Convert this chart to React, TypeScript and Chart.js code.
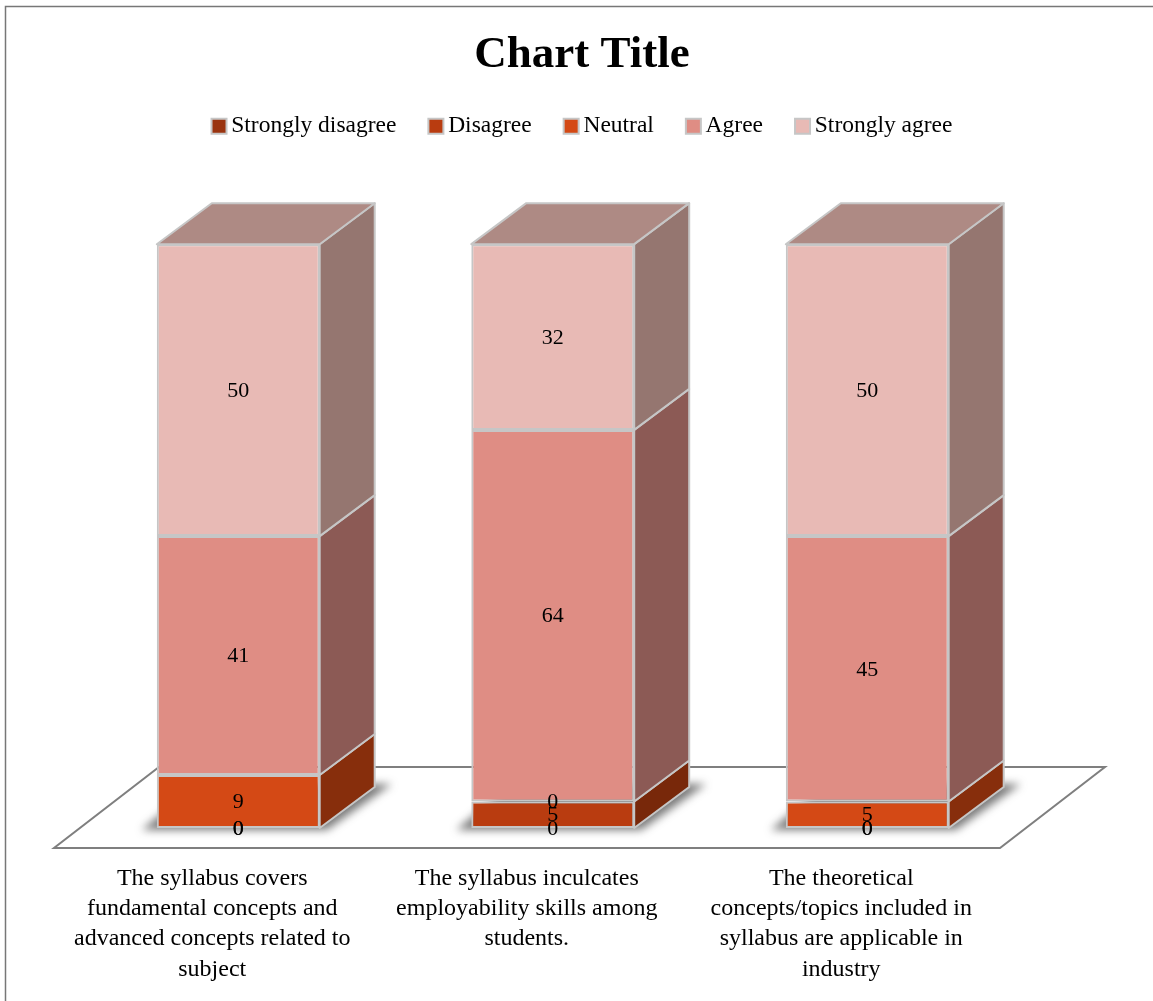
import React, { useEffect, useRef } from "react";
import { Chart, registerables } from "chart.js";

Chart.register(...registerables);

const categories = [
  ["The syllabus covers", "fundamental concepts and", "advanced concepts related to", "subject"],
  ["The syllabus inculcates", "employability skills among", "students."],
  ["The theoretical", "concepts/topics included in", "syllabus are applicable in", "industry"],
];
const stronglyDisagree = [0, 0, 0];
const disagree = [0, 4.55, 0];
const neutral = [9.09, 0, 4.55];
const agree = [40.91, 63.64, 45.45];
const stronglyAgree = [50, 31.82, 50];

const seriesNames = ["Strongly disagree", "Disagree", "Neutral", "Agree", "Strongly agree"];
const seriesValues = [stronglyDisagree, disagree, neutral, agree, stronglyAgree];
const frontColors = ["#9a3410", "#b93c10", "#d44915", "#df8d84", "#e8bab5"];
const sideColors = ["#6a2409", "#78280a", "#872e0c", "#8c5a55", "#957670"];
const topColors = ["#7a2a0c", "#8a300c", "#98360f", "#a0625c", "#ae8a84"];
const edgeColor = "#c6c6c6";
const FONT = '"Liberation Serif", serif';
const DEPTH_X = 55;
const DEPTH_Y = -41;

function poly(ctx: CanvasRenderingContext2D, pts: number[][]) {
  ctx.beginPath();
  pts.forEach(([x, y], i) => (i ? ctx.lineTo(x, y) : ctx.moveTo(x, y)));
  ctx.closePath();
}

const scene = {
  id: "scene",
  beforeInit(chart: any) {
    const fit = chart.legend.fit;
    chart.legend.fit = function () {
      fit.call(this);
      this.height = 162.2;
    };
  },
  beforeDraw(chart: any) {
    const { ctx, width, height } = chart;
    ctx.save();
    ctx.fillStyle = "#fff";
    ctx.fillRect(0, 0, width, height);
    ctx.strokeStyle = "#777";
    ctx.lineWidth = 1.5;
    ctx.beginPath();
    ctx.moveTo(5.5, height);
    ctx.lineTo(5.5, 6.5);
    ctx.lineTo(width, 6.5);
    ctx.stroke();
    ctx.restore();
  },
  beforeDatasetsDraw(chart: any) {
    const { ctx, chartArea } = chart;
    const { left, right, bottom } = chartArea;
    ctx.save();
    poly(ctx, [
      [left - 27, bottom + 20],
      [right - 24.5, bottom + 20],
      [right + 80.5, bottom - 61],
      [left + 78, bottom - 61],
    ]);
    ctx.fillStyle = "#fff";
    ctx.fill();
    ctx.strokeStyle = "#7f7f7f";
    ctx.lineWidth = 2;
    ctx.stroke();
    const first = chart.getDatasetMeta(0).data;
    first.forEach((bar: any) => {
      const l = bar.x - bar.width / 2;
      const r = bar.x + bar.width / 2;
      const b = chart.scales.y.getPixelForValue(0);
      ctx.save();
      ctx.filter = "blur(4px)";
      ctx.fillStyle = "rgba(50,50,50,0.65)";
      poly(ctx, [
        [l - 15, b + 2],
        [r + 7, b + 2],
        [r + 72, b - 44],
        [l + 40, b - 44],
      ]);
      ctx.fill();
      ctx.restore();
    });
    ctx.restore();
  },
  afterDatasetsDraw(chart: any) {
    const { ctx } = chart;
    ctx.save();
    ctx.lineWidth = 2;
    ctx.strokeStyle = edgeColor;
    ctx.lineJoin = "round";
    const nBars = categories.length;
    for (let j = 0; j < nBars; j++) {
      let topIndex = 0;
      seriesValues.forEach((s, i) => {
        if (s[j] > 0) topIndex = i;
      });
      seriesValues.forEach((s, i) => {
        if (s[j] <= 0) return;
        const bar: any = chart.getDatasetMeta(i).data[j];
        const r = bar.x + bar.width / 2;
        const l = bar.x - bar.width / 2;
        poly(ctx, [
          [r, bar.base],
          [r + DEPTH_X, bar.base + DEPTH_Y],
          [r + DEPTH_X, bar.y + DEPTH_Y],
          [r, bar.y],
        ]);
        ctx.fillStyle = sideColors[i];
        ctx.fill();
        ctx.stroke();
        if (i === topIndex) {
          poly(ctx, [
            [l, bar.y],
            [r, bar.y],
            [r + DEPTH_X, bar.y + DEPTH_Y],
            [l + DEPTH_X, bar.y + DEPTH_Y],
          ]);
          ctx.fillStyle = topColors[i];
          ctx.fill();
          ctx.stroke();
        }
      });
    }
    ctx.fillStyle = "#000";
    ctx.font = `22px ${FONT}`;
    ctx.textAlign = "center";
    ctx.textBaseline = "middle";
    seriesValues.forEach((s, i) => {
      s.forEach((v, j) => {
        const bar: any = chart.getDatasetMeta(i).data[j];
        ctx.fillText(String(Math.round(v)), bar.x, (bar.y + bar.base) / 2 + 1);
      });
    });
    ctx.restore();
  },
  afterDraw(chart: any) {
    const { ctx, legend } = chart;
    ctx.save();
    ctx.strokeStyle = edgeColor;
    ctx.lineWidth = 2;
    legend.legendHitBoxes.forEach((hit: any, i: number) => {
      const y = hit.top + hit.height / 2 - 7;
      ctx.fillStyle = frontColors[i];
      ctx.fillRect(hit.left, y, 15, 15);
      ctx.strokeRect(hit.left, y, 15, 15);
    });
    ctx.restore();
  },
};

export default function App() {
  const ref = useRef<HTMLCanvasElement>(null);
  useEffect(() => {
    const chart = new Chart(ref.current as HTMLCanvasElement, {
      type: "bar",
      data: {
        labels: categories as any,
        datasets: seriesNames.map((label, i) => ({
          label,
          data: seriesValues[i],
          backgroundColor: (c: any) => (c.raw > 0 ? frontColors[i] : "transparent"),
          borderColor: (c: any) => (c.raw > 0 ? edgeColor : "transparent"),
          borderWidth: (c: any) => (c.raw > 0 ? 2 : 0),
          borderSkipped: false,
          inflateAmount: 0,
          barPercentage: 0.518,
          categoryPercentage: 1,
        })),
      },
      options: {
        responsive: false,
        animation: false,
        devicePixelRatio: 1,
        layout: { padding: { left: 11 } },
        plugins: {
          tooltip: { enabled: false },
          title: {
            display: true,
            text: "Chart Title",
            color: "#000",
            font: { family: FONT, size: 45, weight: "bold" },
            padding: { top: 28, bottom: 0 },
          },
          legend: {
            display: true,
            position: "top",
            onClick: () => {},
            labels: {
              boxWidth: 8,
              boxHeight: 14,
              padding: 32,
              color: "#000",
              font: { family: FONT, size: 23.5 },
              generateLabels: () =>
                seriesNames.map((text, i) => ({
                  text,
                  datasetIndex: i,
                  fillStyle: "transparent",
                  strokeStyle: "transparent",
                  lineWidth: 0,
                  fontColor: "#000",
                  hidden: false,
                })),
            },
          },
        },
        scales: {
          x: {
            stacked: true,
            grid: { display: false },
            border: { display: false },
            ticks: {
              autoSkip: false,
              maxRotation: 0,
              minRotation: 0,
              labelOffset: -26,
              padding: 27,
              color: "#000",
              font: { family: FONT, size: 24, lineHeight: 1.27 },
            },
            afterFit: (s: any) => {
              s.height = 173;
            },
          },
          y: {
            stacked: true,
            min: 0,
            max: 100,
            grid: { display: false },
            border: { display: false },
            ticks: { display: false },
            afterFit: (s: any) => {
              s.width = 70;
            },
          },
          yr: {
            position: "right",
            min: 0,
            max: 100,
            grid: { display: false },
            border: { display: false },
            ticks: { display: false },
            afterFit: (s: any) => {
              s.width = 128.5;
            },
          },
        },
      },
      plugins: [scene],
    } as any);
    return () => chart.destroy();
  }, []);
  return (
    <canvas
      ref={ref}
      width={1153}
      height={1001}
      style={{ position: "absolute", left: 0, top: 0, display: "block" }}
    />
  );
}
